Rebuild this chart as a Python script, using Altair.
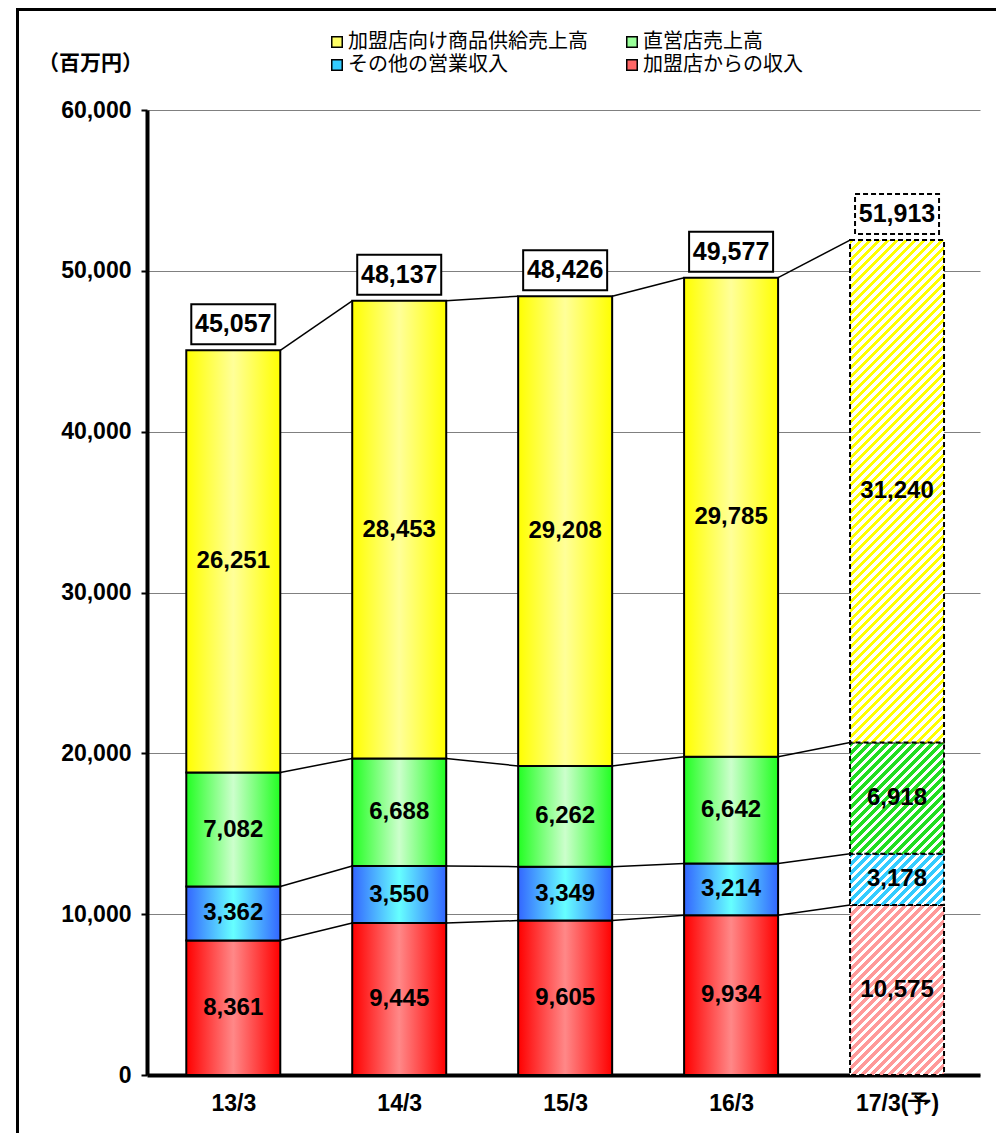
import json
import altair as alt
import pandas as pd

# ---------------- data ----------------
years = ["13/3", "14/3", "15/3", "16/3", "17/3(予)"]
franchise_income = [8361, 9445, 9605, 9934, 10575]      # 加盟店からの収入 (red)
other_income = [3362, 3550, 3349, 3214, 3178]           # その他の営業収入 (blue)
direct_sales = [7082, 6688, 6262, 6642, 6918]           # 直営店売上高 (green)
supply_sales = [26251, 28453, 29208, 29785, 31240]      # 加盟店向け商品供給売上高 (yellow)
totals = [45057, 48137, 48426, 49577, 51913]
forecast = [False, False, False, False, True]

series_names = ["加盟店からの収入", "その他の営業収入", "直営店売上高", "加盟店向け商品供給売上高"]
series_values = [franchise_income, other_income, direct_sales, supply_sales]
legend_order = ["加盟店向け商品供給売上高", "直営店売上高", "その他の営業収入", "加盟店からの収入"]
legend_colors = ["#FFFF66", "#99FF99", "#33CCFF", "#FF6666"]

# ---------------- styles ----------------
grad_edges = ["#FF0000", "#3366FF", "#22FF22", "#FFFF00"]
grad_centers = ["#FF8888", "#66FFFF", "#CCFFCC", "#FFFF99"]
hatch_colors = ["#FF9999", "#33CCFF", "#22DD22", "#FFFF00"]

W, H = 833, 965
YMAX = 60000
XMIN, XMAX = -0.52, 4.5
PXU = W / (XMAX - XMIN)          # pixels per category unit
HALF = 47 / PXU                  # half bar width in category units
BOXHALF = 42 / PXU
PXY = YMAX / H                   # data units per pixel (y)

NUMFONT = "'Liberation Sans Narrow', 'Liberation Sans', Arial, sans-serif"
AXFONT = "'Liberation Sans', Arial, sans-serif"
CJK = "'Noto Sans CJK JP', sans-serif"

# ---------------- tables ----------------
seg_rows = []
for i, yr in enumerate(years):
    cum = 0
    for s, (name, vals) in enumerate(zip(series_names, series_values)):
        v = vals[i]
        seg_rows.append(dict(idx=i, series=name, s=s, value=v, y0=cum, y1=cum + v,
                             ymid=cum + v / 2, xl=i - HALF, xr=i + HALF, xc=i,
                             label=f"{v:,}", fc=forecast[i]))
        cum += v
seg = pd.DataFrame(seg_rows)

tops = {}
for r in seg_rows:
    tops[(r["idx"], r["s"])] = r["y1"]

conn_rows = []
for s in range(4):
    for i in range(len(years) - 1):
        conn_rows.append(dict(xa=i + HALF, xb=i + 1 - HALF,
                              ya=tops[(i, s)], yb=tops[(i + 1, s)]))
conn = pd.DataFrame(conn_rows)

box_rows = []
for i in range(len(years)):
    top = tops[(i, 3)]
    box_rows.append(dict(xl=i - BOXHALF, xr=i + BOXHALF, xc=i,
                         yb=top + 6 * PXY, yt=top + 46 * PXY, ym=top + 26 * PXY,
                         label=f"{totals[i]:,}", fc=forecast[i]))
boxes = pd.DataFrame(box_rows)

# ---------------- scales / axes ----------------
xs = alt.Scale(domain=[XMIN, XMAX], nice=False, zero=False)
ys = alt.Scale(domain=[0, YMAX], nice=False, zero=True)

label_expr = json.dumps(years, ensure_ascii=False) + "[datum.value]"
xaxis = alt.Axis(values=[0, 1, 2, 3, 4], labelExpr=label_expr, ticks=False, grid=False,
                 domainColor="black", domainWidth=4, labelFont=NUMFONT, labelFontSize=23,
                 labelFontWeight="bold", labelColor="black", labelPadding=17,
                 labelFlush=False, labelOverlap=False, title=None)
yaxis = alt.Axis(values=list(range(0, YMAX + 1, 10000)),
                 labelExpr="format(datum.value, ',.0f')", grid=True,
                 gridColor="#808080", gridWidth=1, domainColor="black", domainWidth=4,
                 tickColor="black", tickSize=6, tickWidth=2,
                 labelFont=AXFONT, labelFontWeight="bold", labelFontSize=23,
                 labelColor="black", labelPadding=10, labelFlush=False,
                 title="（百万円）", titleAngle=0, titleFont=CJK, titleFontSize=21,
                 titleFontWeight="bold", titleColor="black", titleAlign="center",
                 titleBaseline="middle", titleX=-57, titleY=-47)


def X(f):
    return alt.X(f, type="quantitative", scale=xs, axis=xaxis)


def Y(f):
    return alt.Y(f, type="quantitative", scale=ys, axis=yaxis)


def hgrad(edge, center):
    return {"gradient": "linear", "x1": 0, "y1": 0, "x2": 1, "y2": 0,
            "stops": [{"offset": 0, "color": edge}, {"offset": 0.5, "color": center},
                      {"offset": 1, "color": edge}]}


def hatch(color, w, h, period=9.0, frac=0.5):
    L = w + h
    a = L * w / (w * w + h * h)
    b = L * h / (w * w + h * h)
    stops = []
    k = 0
    while k * period < L:
        s0 = k * period / L
        m = min((k * period + period * frac) / L, 1)
        e = min((k + 1) * period / L, 1)
        stops += [(s0, color), (m, color), (m, "#ffffff"), (e, "#ffffff")]
        k += 1
    return {"gradient": "linear", "x1": 0, "y1": 0, "x2": a, "y2": b,
            "stops": [{"offset": o, "color": c} for o, c in stops]}


layers = []

# outer frame
frame = alt.Chart(alt.Data(values=[{}])).mark_rect(
    filled=False, stroke="black", strokeWidth=3).encode(
    x=alt.value(-129.5), x2=alt.value(850.5), y=alt.value(-100.5), y2=alt.value(1030))
layers.append(frame)

# connector lines
layers.append(alt.Chart(conn).mark_rule(color="black", strokeWidth=1.5).encode(
    x=X("xa"), x2="xb", y=Y("ya"), y2="yb"))

# solid gradient bars
for s in range(4):
    d = seg[(seg.s == s) & (~seg.fc)]
    layers.append(alt.Chart(d).mark_bar(fill=hgrad(grad_edges[s], grad_centers[s]),
                                        stroke="black", strokeWidth=2).encode(
        x=X("xl"), x2="xr", y=Y("y0"), y2="y1"))

# hatched forecast bars
for s in range(4):
    d = seg[(seg.s == s) & (seg.fc)]
    v = float(d.value.iloc[0])
    layers.append(alt.Chart(d).mark_bar(fill=hatch(hatch_colors[s], 2 * HALF * PXU, v / PXY),
                                        stroke="black", strokeWidth=2,
                                        strokeDash=[5, 3]).encode(
        x=X("xl"), x2="xr", y=Y("y0"), y2="y1"))

# segment labels
layers.append(alt.Chart(seg).mark_text(font=NUMFONT, fontSize=24, fontWeight="bold",
                                       color="black", align="center", baseline="middle").encode(
    x=X("xc"), y=Y("ymid"), text="label:N"))

# total boxes
layers.append(alt.Chart(boxes[~boxes.fc]).mark_rect(fill="white", stroke="black", strokeWidth=2).encode(
    x=X("xl"), x2="xr", y=Y("yb"), y2="yt"))
layers.append(alt.Chart(boxes[boxes.fc]).mark_rect(fill="white", stroke="black", strokeWidth=2,
                                                   strokeDash=[5, 3]).encode(
    x=X("xl"), x2="xr", y=Y("yb"), y2="yt"))
layers.append(alt.Chart(boxes).mark_text(font=NUMFONT, fontSize=25, fontWeight="bold",
                                         color="black", align="center", baseline="middle").encode(
    x=X("xc"), y=Y("ym"), text="label:N"))

# legend carrier (invisible)
layers.append(alt.Chart(seg).mark_square(opacity=0).encode(
    x=X("xc"), y=Y("ymid"),
    color=alt.Color("series:N",
                    scale=alt.Scale(domain=legend_order, range=legend_colors),
                    legend=alt.Legend(orient="none", legendX=180, legendY=-78, columns=2,
                                      direction="horizontal",
                                      columnPadding=34, rowPadding=3, title=None,
                                      symbolType="square", symbolSize=110,
                                      symbolStrokeColor="black", symbolStrokeWidth=1.5,
                                      symbolOpacity=1, labelFont=CJK, labelFontSize=20,
                                      labelColor="black", labelOffset=1, padding=0,
                                      labelLimit=400))))

chart = alt.layer(*layers).properties(
    width=W, height=H,
    autosize=alt.AutoSizeParams(type="none"),
    padding={"left": 139, "top": 102, "right": 16, "bottom": 58},
).configure_view(stroke=None)

chart.save("out.html", embed_options={"renderer": "svg", "actions": False})
